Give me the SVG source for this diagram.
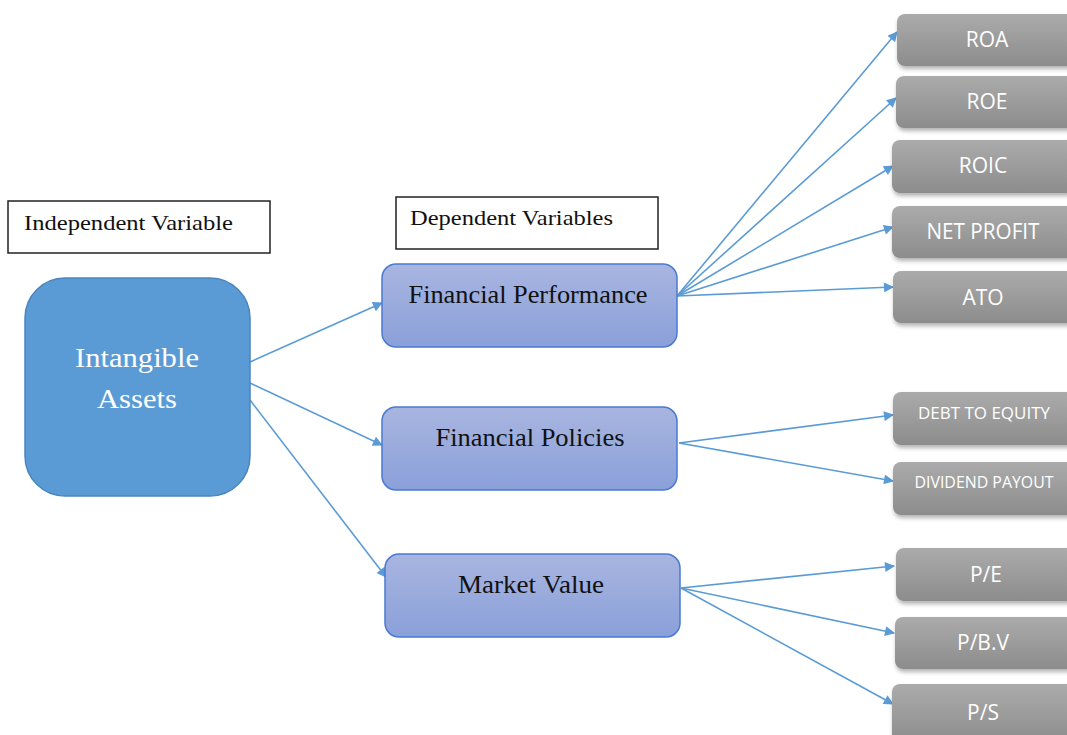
<svg xmlns="http://www.w3.org/2000/svg" width="1067" height="735" viewBox="0 0 1067 735">
<defs>
<linearGradient id="gGrey" x1="0" y1="0" x2="0" y2="1"><stop offset="0" stop-color="#ababab"/><stop offset="1" stop-color="#8c8c8c"/></linearGradient>
<linearGradient id="gBlue" x1="0" y1="0" x2="0" y2="1"><stop offset="0" stop-color="#a8b5e0"/><stop offset="1" stop-color="#8aa0d9"/></linearGradient>
<filter id="sh" x="-10%" y="-10%" width="130%" height="140%"><feDropShadow dx="1" dy="3" stdDeviation="2" flood-color="#000" flood-opacity="0.3"/></filter>
<marker id="arr" viewBox="0 0 10 10" refX="9" refY="5" markerWidth="11" markerHeight="10" markerUnits="userSpaceOnUse" orient="auto"><path d="M0,0 L10,5 L0,10 z" fill="#5b9bd5"/></marker>
</defs>
<style>
.grey{fill:url(#gGrey);filter:url(#sh)}
.gt{fill:#fff;font-family:"Open Sans","Liberation Sans",sans-serif;font-size:21px;text-anchor:middle}
.gs{fill:#fff;font-family:"Open Sans","Liberation Sans",sans-serif;font-size:17px;text-anchor:middle}
.blue{fill:url(#gBlue);stroke:#4a7ad0;stroke-width:1.5}
.bt{fill:#111;font-family:"Liberation Serif",serif;font-size:26px;text-anchor:middle}
.lbl{fill:#fff;stroke:#222;stroke-width:1.5}
.lt{fill:#111;font-family:"Liberation Serif",serif;font-size:21px}
.c{stroke:#5b9bd5;stroke-width:1.6;fill:none;marker-end:url(#arr)}
</style>
<rect width="1067" height="735" fill="#fff"/>
<g id="connectors">
<line class="c" x1="250" y1="362" x2="382" y2="303"/>
<line class="c" x1="250" y1="383" x2="382" y2="445"/>
<line class="c" x1="250" y1="400" x2="386" y2="577"/>
<line class="c" x1="677" y1="296" x2="897" y2="32"/>
<line class="c" x1="677" y1="296" x2="896" y2="98"/>
<line class="c" x1="677" y1="296" x2="893" y2="166"/>
<line class="c" x1="677" y1="296" x2="893" y2="227"/>
<line class="c" x1="677" y1="296" x2="893" y2="287"/>
<line class="c" x1="679" y1="443" x2="893" y2="415"/>
<line class="c" x1="679" y1="443" x2="893" y2="481"/>
<line class="c" x1="681" y1="588" x2="894" y2="566"/>
<line class="c" x1="681" y1="588" x2="894" y2="633"/>
<line class="c" x1="681" y1="588" x2="893" y2="704"/>
</g>
<g id="independent-label"><rect class="lbl" x="8" y="201" width="262" height="52"/><text class="lt" x="24" y="230" textLength="209" lengthAdjust="spacingAndGlyphs">Independent Variable</text></g>
<g id="dependent-label"><rect class="lbl" x="396" y="197" width="262" height="52"/><text class="lt" x="410" y="225" textLength="203" lengthAdjust="spacingAndGlyphs">Dependent Variables</text></g>
<g id="intangible"><rect x="25" y="278" width="225" height="218" rx="40" fill="#5b9bd5" stroke="#4a85bd" stroke-width="1.5"/><text x="75" y="367" fill="#fff" font-family="Liberation Serif,serif" font-size="28" textLength="124" lengthAdjust="spacingAndGlyphs">Intangible</text><text x="97" y="408" fill="#fff" font-family="Liberation Serif,serif" font-size="28" textLength="80" lengthAdjust="spacingAndGlyphs">Assets</text></g>
<g id="fin-perf"><rect class="blue" x="382" y="264" width="295" height="83" rx="14"/><text class="bt" x="528" y="303" textLength="239" lengthAdjust="spacingAndGlyphs">Financial Performance</text></g>
<g id="fin-pol"><rect class="blue" x="382" y="407" width="295" height="83" rx="14"/><text class="bt" x="530" y="446" textLength="189" lengthAdjust="spacingAndGlyphs">Financial Policies</text></g>
<g id="market"><rect class="blue" x="385" y="554" width="295" height="83" rx="14"/><text class="bt" x="531" y="593" textLength="146" lengthAdjust="spacingAndGlyphs">Market Value</text></g>
<g id="roa"><rect class="grey" x="897" y="14" width="185" height="52" rx="8"/><text class="gt" x="987" y="47">ROA</text></g>
<g id="roe"><rect class="grey" x="896" y="76" width="185" height="52" rx="8"/><text class="gt" x="987" y="109">ROE</text></g>
<g id="roic"><rect class="grey" x="892" y="140" width="185" height="53" rx="8"/><text class="gt" x="983" y="173">ROIC</text></g>
<g id="net-profit"><rect class="grey" x="892" y="206" width="185" height="52" rx="8"/><text class="gt" x="983" y="239" textLength="113" lengthAdjust="spacingAndGlyphs">NET PROFIT</text></g>
<g id="ato"><rect class="grey" x="893" y="271" width="185" height="52" rx="8"/><text class="gt" x="983" y="305">ATO</text></g>
<g id="debt"><rect class="grey" x="893" y="392" width="185" height="53" rx="8"/><text class="gs" x="984" y="419" textLength="132" lengthAdjust="spacingAndGlyphs">DEBT TO EQUITY</text></g>
<g id="dividend"><rect class="grey" x="893" y="462" width="185" height="53" rx="8"/><text class="gs" x="984" y="488" font-size="16" textLength="139" lengthAdjust="spacingAndGlyphs">DIVIDEND PAYOUT</text></g>
<g id="pe"><rect class="grey" x="896" y="548" width="185" height="53" rx="8"/><text class="gt" x="986" y="582">P/E</text></g>
<g id="pbv"><rect class="grey" x="895" y="617" width="185" height="52" rx="8"/><text class="gt" x="983" y="650">P/B.V</text></g>
<g id="ps"><rect class="grey" x="892" y="684" width="185" height="60" rx="8"/><text class="gt" x="983" y="720">P/S</text></g>
</svg>
